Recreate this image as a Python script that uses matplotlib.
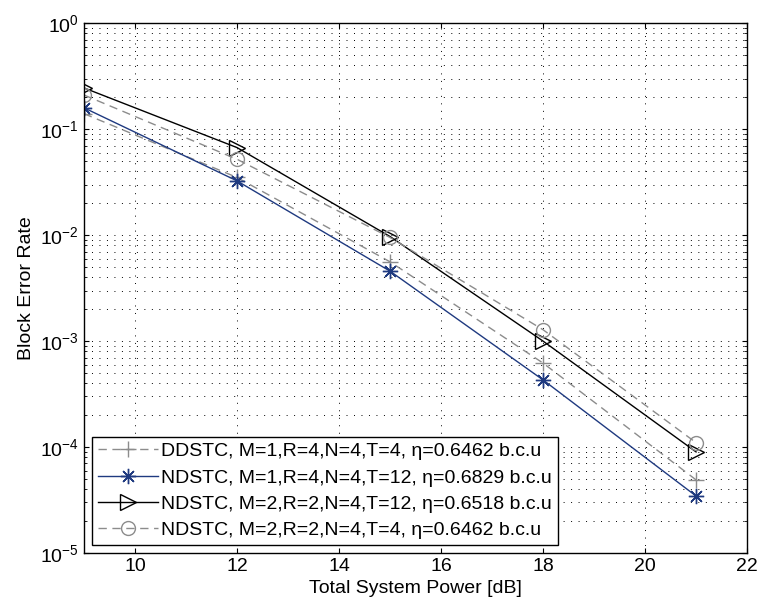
import numpy as np
import matplotlib
matplotlib.use("Agg")
import matplotlib.pyplot as plt

plt.rcParams['font.family'] = ['Liberation Sans', 'DejaVu Sans']

# datos
potencia = [9, 12, 15, 18, 21]
ddstc_m1_t4 = [0.14, 0.035, 0.0056, 6.2e-4, 4.9e-5]
ndstc_m1_t12 = [0.159, 0.0325, 0.00457, 4.3e-4, 3.45e-5]
ndstc_m2_t12 = [0.245, 0.067, 0.0097, 1.0e-3, 9.0e-5]
ndstc_m2_t4 = [0.21, 0.052, 0.0095, 1.28e-3, 1.1e-4]

etiquetas = [
    'DDSTC, M=1,R=4,N=4,T=4, η=0.6462 b.c.u',
    'NDSTC, M=1,R=4,N=4,T=12, η=0.6829 b.c.u',
    'NDSTC, M=2,R=2,N=4,T=12, η=0.6518 b.c.u',
    'NDSTC, M=2,R=2,N=4,T=4, η=0.6462 b.c.u',
]

gris = '#8c8c8c'
azul = '#1f3a80'
asterisco = (8, 2, 0)

fig = plt.figure(figsize=(7.6, 6.1), dpi=100)
ax = fig.add_axes([0.1105, 0.0934, 0.8725, 0.8686])

ax.semilogy(potencia, ddstc_m1_t4, '--', color=gris, marker='+', markersize=12,
            markeredgewidth=1, linewidth=1, dashes=(6, 4), label=etiquetas[0])
ax.semilogy(potencia, ndstc_m1_t12, '-', color=azul, marker=asterisco, markersize=11,
            markeredgewidth=1, linewidth=1, label=etiquetas[1])
ax.semilogy(potencia, ndstc_m2_t12, '-', color='black', marker='>', markersize=11,
            markeredgewidth=1, markerfacecolor='none', linewidth=1, label=etiquetas[2])
ax.semilogy(potencia, ndstc_m2_t4, '--', color=gris, marker='o', markersize=10,
            markeredgewidth=1, markerfacecolor='none', linewidth=1, dashes=(6, 4),
            label=etiquetas[3])

ax.set_xlim(9, 22)
ax.set_ylim(1e-5, 1)
ax.set_xticks([10, 12, 14, 16, 18, 20, 22])
grid_estilo = dict(linestyle=(0, (1, 6.7)), color='black', linewidth=0.7)
ax.grid(True, which='major', axis='x', **grid_estilo)
ax.grid(True, which='both', axis='y', **grid_estilo)
ax.tick_params(which='both', direction='in', top=True, right=True, labelsize=14)
ax.set_xlabel('Total System Power [dB]', fontsize=14)
ax.set_ylabel('Block Error Rate', fontsize=14)
for s in ax.spines.values():
    s.set_linewidth(1)

leg = ax.legend(loc='lower left', bbox_to_anchor=(0.012, 0.015), borderaxespad=0,
                fontsize=14, fancybox=False, framealpha=1, edgecolor='black',
                handlelength=3.1, handletextpad=0.15, labelspacing=0.45, borderpad=0.3)
leg.get_frame().set_linewidth(1)

plt.savefig('out.png', dpi=100)
